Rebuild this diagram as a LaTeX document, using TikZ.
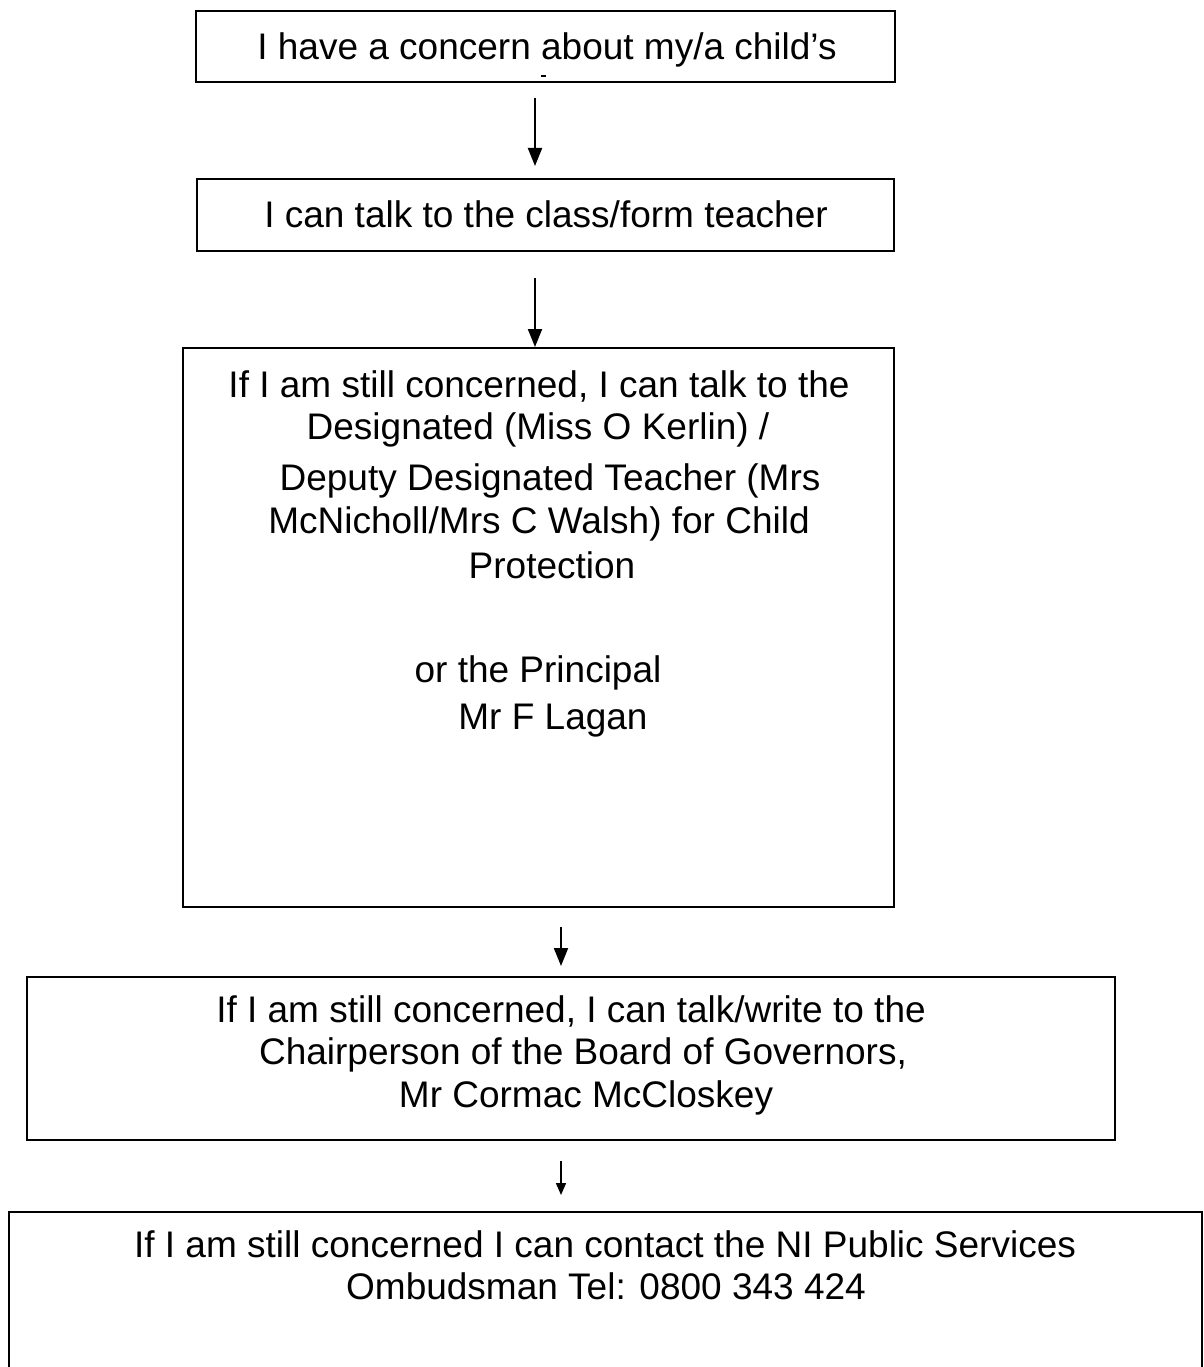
\documentclass[tikz,border=0pt]{standalone}
\usepackage{fontspec}
\setmainfont{Liberation Sans}
\usetikzlibrary{arrows.meta}
\tikzset{
  box/.style={draw=black, line width=2.5pt, inner sep=0pt, fill=none},
  txt/.style={anchor=mid, inner sep=0pt, font=\fontsize{37}{44}\selectfont},
  flow/.style={line width=2pt, -{Triangle[length=18pt,width=14pt]}},
  flowsmall/.style={line width=1.6pt, -{Triangle[length=12pt,width=10pt]}}
}
\begin{document}
\begin{tikzpicture}[x=1pt,y=-1pt]
\clip (0,0) rectangle (1203,1367);
\fill[white] (0,0) rectangle (1203,1367);
% boxes
\node[box, minimum width=699pt, minimum height=71pt] (b1) at (545.5,46.5) {};
\node[box, minimum width=697pt, minimum height=72pt] (b2) at (545.5,215) {};
\node[box, minimum width=711pt, minimum height=559pt] (b3) at (538.5,627.5) {};
\node[box, minimum width=1088pt, minimum height=163pt] (b4) at (571,1058.5) {};
\node[box, minimum width=1193pt, minimum height=208pt] (b5) at (605.5,1316) {};
% texts
\node[txt] (t1) at (547,57) {I have a concern about my/a child’s};
\draw[line width=2pt] (541,76) -- (546,76);
\node[txt] (t2) at (546,225) {I can talk to the class/form teacher};
\node[txt] (t3a) at (539,395) {If I am still concerned, I can talk to the};
\node[txt] (t3b) at (538,437) {Designated (Miss O Kerlin) /};
\node[txt] (t3c) at (550,488) {Deputy Designated Teacher (Mrs};
\node[txt] (t3d) at (539,531) {McNicholl/Mrs C Walsh) for Child};
\node[txt] (t3e) at (552,576) {Protection};
\node[txt] (t3f) at (538,680) {or the Principal};
\node[txt] (t3g) at (553,727) {Mr F Lagan};
\node[txt] (t4a) at (571,1020) {If I am still concerned, I can talk/write to the};
\node[txt] (t4b) at (583,1062) {Chairperson of the Board of Governors,};
\node[txt] (t4c) at (586,1105) {Mr Cormac McCloskey};
\node[txt] (t5a) at (605,1255) {If I am still concerned I can contact the NI Public Services};
\node[txt] (t5b) at (606,1297) {Ombudsman Tel: 0800 343 424};
% arrow endpoints
\coordinate (a1s) at (535,98);
\coordinate (a1e) at (535,166);
\coordinate (a2s) at (535,278);
\coordinate (a2e) at (535,347);
\coordinate (a3s) at (561,927);
\coordinate (a3e) at (561,966);
\coordinate (a4s) at (561,1161);
\coordinate (a4e) at (561,1195);
\draw[flow] (a1s) -- (a1e);
\draw[flow] (a2s) -- (a2e);
\draw[flow] (a3s) -- (a3e);
\draw[flowsmall] (a4s) -- (a4e);
\end{tikzpicture}
\end{document}
